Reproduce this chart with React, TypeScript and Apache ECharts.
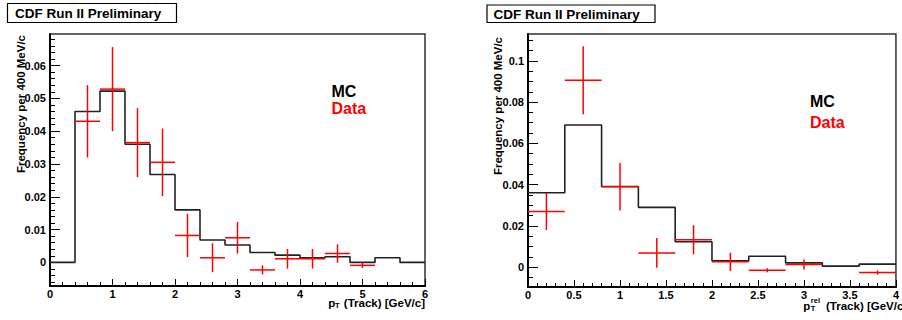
import React, { useEffect, useRef } from 'react';
import * as echarts from 'echarts';

// ---------- Left panel: pT(Track) ----------
const leftEdges = [0, 0.4, 0.8, 1.2, 1.6, 2.0, 2.4, 2.8, 3.2, 3.6, 4.0, 4.4, 4.8, 5.2, 5.6, 6.0];
const leftMC = [0, 0.046, 0.0522, 0.036, 0.0268, 0.016, 0.0068, 0.0053, 0.003, 0.0022, 0.0014, 0.0017, 0.0, 0.0014, 0.0];
const leftDataX = [0.6, 1.0, 1.4, 1.8, 2.2, 2.6, 3.0, 3.4, 3.8, 4.2, 4.6, 5.0];
const leftDataY = [0.043, 0.0528, 0.0365, 0.0305, 0.0082, 0.0014, 0.0075, -0.0023, 0.0011, 0.0011, 0.0027, -0.0009];
const leftDataErr = [0.011, 0.0128, 0.0105, 0.0103, 0.0066, 0.0044, 0.0048, 0.0014, 0.003, 0.003, 0.0028, 0.0008];
const leftYMajor = [0, 0.01, 0.02, 0.03, 0.04, 0.05, 0.06];
const leftYMinor = [-0.006, -0.004, -0.002, 0.002, 0.004, 0.006, 0.008, 0.012, 0.014, 0.016, 0.018, 0.022, 0.024, 0.026, 0.028, 0.032, 0.034, 0.036, 0.038, 0.042, 0.044, 0.046, 0.048, 0.052, 0.054, 0.056, 0.058, 0.062, 0.064, 0.066, 0.068];

// ---------- Right panel: pT rel(Track) ----------
const rightEdges = [0, 0.4, 0.8, 1.2, 1.6, 2.0, 2.4, 2.8, 3.2, 3.6, 4.0];
const rightMC = [0.0361, 0.0689, 0.0391, 0.029, 0.0123, 0.0031, 0.0053, 0.0021, 0.0005, 0.0015];
const rightDataX = [0.2, 0.6, 1.0, 1.4, 1.8, 2.2, 2.6, 3.0, 3.8];
const rightDataY = [0.027, 0.0906, 0.039, 0.0069, 0.0133, 0.0026, -0.0015, 0.0013, -0.0026];
const rightDataErr = [0.009, 0.0165, 0.0115, 0.0072, 0.007, 0.0044, 0.001, 0.0024, 0.001];
const rightYMajor = [0, 0.02, 0.04, 0.06, 0.08, 0.1];
const rightYMinor = [-0.005, 0.005, 0.01, 0.015, 0.025, 0.03, 0.035, 0.045, 0.05, 0.055, 0.065, 0.07, 0.075, 0.085, 0.09, 0.095, 0.105, 0.11];

const BIN_HALF = 0.2;
const FONT = '"Liberation Sans", Arial, Helvetica, sans-serif';
const RED = '#ff0000';

function stepPoints(edges: number[], values: number[]) {
  const pts: number[][] = [];
  values.forEach((v, i) => {
    pts.push([edges[i], v]);
    pts.push([edges[i + 1], v]);
  });
  return pts;
}

function errData(xs: number[], ys: number[], es: number[]) {
  return xs.map((x, i) => [x, ys[i], es[i]]);
}

const renderCross = (params: any, api: any) => {
  const x = api.value(0);
  const y = api.value(1);
  const e = api.value(2);
  const l = api.coord([x - BIN_HALF, y]);
  const r = api.coord([x + BIN_HALF, y]);
  const t = api.coord([x, y + e]);
  const b = api.coord([x, y - e]);
  const style = { stroke: RED, lineWidth: 1.5 };
  return {
    type: 'group',
    children: [
      { type: 'line', shape: { x1: l[0], y1: l[1], x2: r[0], y2: r[1] }, style },
      { type: 'line', shape: { x1: t[0], y1: t[1], x2: b[0], y2: b[1] }, style },
    ],
  };
};

const tickLabel = { fontFamily: FONT, fontWeight: 'bold' as const, fontSize: 11, color: '#000' };

function xAxis(gridIndex: number, max: number, interval: number) {
  return {
    type: 'value',
    gridIndex,
    position: 'bottom',
    min: 0,
    max,
    interval,
    axisLine: { show: true, onZero: false, lineStyle: { color: '#000', width: 2 } },
    axisTick: { show: true, inside: true, length: 7, lineStyle: { color: '#000', width: 1 } },
    minorTick: { show: true, splitNumber: 5, length: 4, lineStyle: { color: '#000', width: 1 } },
    splitLine: { show: false },
    minorSplitLine: { show: false },
    axisLabel: { ...tickLabel, margin: 2, showMinLabel: true, showMaxLabel: true },
  };
}

function yAxes(gridIndex: number, min: number, max: number, major: number[], minor: number[]) {
  return [
    {
      type: 'value',
      gridIndex,
      position: 'left',
      min,
      max,
      axisLine: { show: true, onZero: false, lineStyle: { color: '#000', width: 2 } },
      axisTick: { show: true, inside: true, length: 10, customValues: major, lineStyle: { color: '#000', width: 1 } },
      axisLabel: { ...tickLabel, margin: 4, customValues: major },
      splitLine: { show: false },
    },
    {
      type: 'value',
      gridIndex,
      position: 'left',
      min,
      max,
      axisLine: { show: false },
      axisTick: { show: true, inside: true, length: 5, customValues: minor, lineStyle: { color: '#000', width: 1 } },
      axisLabel: { show: false },
      splitLine: { show: false },
    },
  ];
}

function titleText(x: number, y: number, text: string, size: number, color = '#000', align = 'left', extra: any = {}) {
  return {
    type: 'text',
    x,
    y,
    ...extra,
    style: { text, fill: color, fontFamily: FONT, fontWeight: 'bold', fontSize: size, align, verticalAlign: 'middle' },
  };
}

export default function App() {
  const ref = useRef<HTMLDivElement>(null);

  useEffect(() => {
    document.body.style.margin = '0';
    if (!ref.current) return;
    const chart = echarts.init(ref.current, undefined, { renderer: 'svg' });
    const yL = yAxes(0, -0.0072, 0.0696, leftYMajor, leftYMinor);
    const yR = yAxes(1, -0.0096, 0.113, rightYMajor, rightYMinor);

    chart.setOption({
      animation: false,
      backgroundColor: '#fff',
      grid: [
        { left: 50, top: 34, width: 375, height: 252, show: true, borderColor: '#333', borderWidth: 1.5, backgroundColor: 'transparent' },
        { left: 528, top: 34, width: 374, height: 253, show: true, borderColor: '#333', borderWidth: 1.5, backgroundColor: 'transparent' },
      ],
      xAxis: [xAxis(0, 6, 1), xAxis(1, 4, 0.5)],
      yAxis: [...yL, ...yR],
      series: [
        {
          type: 'line',
          xAxisIndex: 0,
          yAxisIndex: 0,
          data: stepPoints(leftEdges, leftMC),
          showSymbol: false,
          symbol: 'none',
          lineStyle: { color: '#222', width: 1.6 },
          z: 2,
        },
        {
          type: 'custom',
          xAxisIndex: 0,
          yAxisIndex: 0,
          data: errData(leftDataX, leftDataY, leftDataErr),
          renderItem: renderCross,
          z: 3,
        },
        {
          type: 'line',
          xAxisIndex: 1,
          yAxisIndex: 2,
          data: stepPoints(rightEdges, rightMC),
          showSymbol: false,
          symbol: 'none',
          lineStyle: { color: '#222', width: 1.6 },
          z: 2,
        },
        {
          type: 'custom',
          xAxisIndex: 1,
          yAxisIndex: 2,
          data: errData(rightDataX, rightDataY, rightDataErr),
          renderItem: renderCross,
          z: 3,
        },
      ],
      graphic: [
        // CDF boxes
        { type: 'rect', shape: { x: 7.5, y: 3.5, width: 169, height: 19 }, style: { fill: '#fff', stroke: '#000', lineWidth: 1.2 } },
        titleText(15, 13, 'CDF Run II Preliminary', 13.5),
        { type: 'rect', shape: { x: 487, y: 5, width: 168, height: 17.5 }, style: { fill: '#fff', stroke: '#000', lineWidth: 1.2 } },
        titleText(493.5, 14, 'CDF Run II Preliminary', 13.5),
        // legend texts
        titleText(331.5, 91, 'MC', 16),
        titleText(331.5, 108, 'Data', 16, RED),
        titleText(810, 101, 'MC', 16),
        titleText(810, 122, 'Data', 16, RED),
        // y titles
        titleText(20.7, 35, 'Frequency per 400 MeV/c', 11.5, '#000', 'right', { rotation: Math.PI / 2 }),
        titleText(498.3, 37, 'Frequency per 400 MeV/c', 11.5, '#000', 'right', { rotation: Math.PI / 2 }),
        // left x title
        titleText(328.3, 302.5, 'p', 11.5),
        titleText(335, 305.5, 'T', 7.5),
        titleText(425, 302.5, '(Track) [GeV/c]', 11.5, '#000', 'right'),
        // right x title
        titleText(803.3, 306, 'p', 11.5),
        titleText(810.8, 300.5, 'rel', 7.5),
        titleText(810.8, 308.5, 'T', 7.5),
        titleText(826, 306, '(Track) [GeV/c]', 11.5),
      ],
    });
    return () => chart.dispose();
  }, []);

  return <div ref={ref} style={{ width: 902, height: 320 }} />;
}
